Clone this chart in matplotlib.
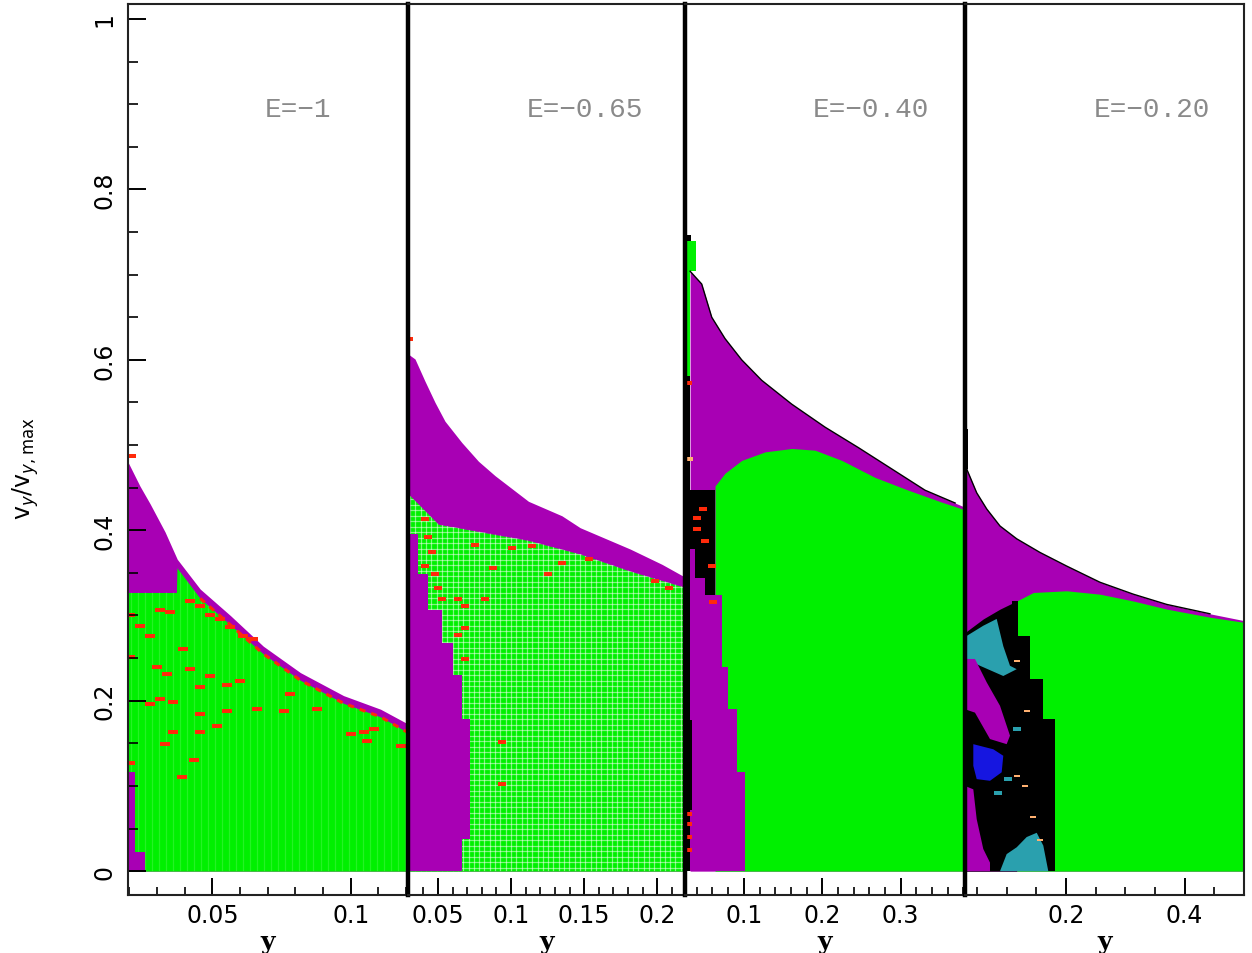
import numpy as np
import matplotlib
matplotlib.use("Agg")
import matplotlib.pyplot as plt
from matplotlib.ticker import MultipleLocator, FuncFormatter
from matplotlib.collections import LineCollection
from matplotlib.path import Path

# =========================
# DATA
# =========================

energies = ["E=\u22121", "E=\u22120.65", "E=\u22120.40", "E=\u22120.20"]

# ---- panel 1 : E=-1 ----
p1_x = [0.0195, 0.0238, 0.0275, 0.0329, 0.0373, 0.0456, 0.0565, 0.0684, 0.0818, 0.0974, 0.1108, 0.1205]
p1_top = [0.480, 0.452, 0.431, 0.398, 0.366, 0.331, 0.300, 0.264, 0.233, 0.206, 0.190, 0.173]
p1_gx = [0.0195, 0.0370, 0.0372, 0.0456, 0.0565, 0.0684, 0.0818, 0.0974, 0.1108, 0.1205]
p1_gtop = [0.327, 0.327, 0.356, 0.320, 0.289, 0.255, 0.224, 0.197, 0.181, 0.163]
p1_col_vy = [0.0, 0.022, 0.116]
p1_col_x = [0.0257, 0.0220, 0.0220]
p1_red_x = [0.0202, 0.0238, 0.0275, 0.0311, 0.0347, 0.0420, 0.0456, 0.0492, 0.0528, 0.0565,
            0.0612, 0.0648, 0.0202, 0.0299, 0.0335, 0.0395, 0.0420, 0.0456, 0.0492, 0.0553,
            0.0601, 0.0311, 0.0359, 0.0275, 0.0456, 0.0553, 0.0661, 0.0758, 0.0879, 0.0782,
            0.0359, 0.0456, 0.0516, 0.0329, 0.0432, 0.0390, 0.1000, 0.1047, 0.1083, 0.1060,
            0.1181, 0.0202, 0.0205]
p1_red_vy = [0.300, 0.288, 0.276, 0.306, 0.304, 0.317, 0.311, 0.300, 0.296, 0.286,
             0.276, 0.272, 0.251, 0.239, 0.231, 0.261, 0.237, 0.216, 0.229, 0.219,
             0.223, 0.202, 0.198, 0.196, 0.184, 0.188, 0.190, 0.188, 0.190, 0.208,
             0.163, 0.163, 0.170, 0.149, 0.131, 0.110, 0.161, 0.163, 0.167, 0.153,
             0.147, 0.127, 0.487]

# ---- panel 2 : E=-0.65 ----
p2_x = [0.0295, 0.0343, 0.0411, 0.0480, 0.0548, 0.0663, 0.0777, 0.0891, 0.1119, 0.1348, 0.1473, 0.1815, 0.2033, 0.2190]
p2_top = [0.607, 0.601, 0.575, 0.550, 0.528, 0.503, 0.481, 0.464, 0.434, 0.417, 0.403, 0.378, 0.360, 0.345]
p2_gx = [0.0295, 0.0503, 0.1119, 0.1473, 0.1815, 0.2190]
p2_gtop = [0.443, 0.407, 0.388, 0.372, 0.352, 0.333]
p2_col_vy = [0.0, 0.038, 0.179, 0.230, 0.268, 0.307, 0.349, 0.396]
p2_col_x = [0.0663, 0.0720, 0.0663, 0.0603, 0.0526, 0.0432, 0.0366, 0.0366]
p2_red_x = [0.0411, 0.0434, 0.0457, 0.0411, 0.0480, 0.0503, 0.0526, 0.0640, 0.0685, 0.0822,
            0.0640, 0.0685, 0.0685, 0.0754, 0.0879, 0.0937, 0.0937, 0.1005, 0.1142, 0.1256,
            0.1348, 0.1530, 0.1987, 0.2078, 0.0302]
p2_red_vy = [0.413, 0.392, 0.375, 0.358, 0.349, 0.332, 0.319, 0.319, 0.311, 0.319,
             0.277, 0.285, 0.249, 0.383, 0.356, 0.151, 0.102, 0.379, 0.381, 0.349,
             0.362, 0.366, 0.341, 0.332, 0.625]

# ---- panel 3 : E=-0.40 ----
p3_x = [0.0315, 0.0463, 0.0591, 0.0760, 0.0973, 0.1228, 0.1611, 0.2036, 0.2461, 0.2886, 0.3311, 0.3694, 0.3820]
p3_top = [0.704, 0.689, 0.650, 0.625, 0.600, 0.576, 0.548, 0.521, 0.497, 0.472, 0.447, 0.432, 0.427]
p3_gx = [0.0633, 0.0760, 0.0973, 0.1270, 0.1611, 0.1908, 0.2249, 0.2674, 0.3098, 0.3524, 0.3820]
p3_gtop = [0.452, 0.467, 0.482, 0.492, 0.496, 0.494, 0.482, 0.462, 0.447, 0.433, 0.424]
p3_dark_vy = [0.0, 0.300, 0.447, 0.581]
p3_dark_x = [0.0310, 0.0633, 0.0315, 0.0315]
p3_col_vy = [0.0, 0.116, 0.190, 0.240, 0.324, 0.344, 0.378]
p3_col_x = [0.1015, 0.0909, 0.0803, 0.0718, 0.0506, 0.0378, 0.0378]
p3_strip_vy = [0.581, 0.704, 0.739]
p3_strip_x = [0.0315, 0.0385, 0.0385]
p3_cap_vy = [0.739, 0.746]
p3_low_vy = [0.072, 0.177]
p3_low_x = [0.0345, 0.0345]
p3_red_x = [0.0483, 0.0399, 0.0399, 0.0505, 0.0591, 0.0611, 0.0285, 0.0285, 0.0285, 0.0285, 0.0285]
p3_red_vy = [0.425, 0.415, 0.402, 0.388, 0.358, 0.316, 0.067, 0.055, 0.040, 0.025, 0.573]
p3_orange_x = [0.0285]
p3_orange_vy = [0.484]

# ---- panel 4 : E=-0.20 ----
p4_x = [0.0300, 0.0328, 0.0497, 0.0666, 0.0890, 0.1171, 0.1563, 0.2013, 0.2574, 0.3136, 0.3698, 0.4427, 0.5000]
p4_top = [0.472, 0.472, 0.444, 0.425, 0.405, 0.390, 0.374, 0.358, 0.339, 0.325, 0.313, 0.302, 0.294]
p4_gx = [0.1171, 0.1451, 0.2013, 0.2574, 0.3136, 0.3698, 0.4427, 0.5000]
p4_gtop = [0.317, 0.327, 0.329, 0.325, 0.317, 0.3075, 0.298, 0.292]
p4_dark_x = [0.0300, 0.0608, 0.0890, 0.1171]
p4_dark_top = [0.280, 0.296, 0.3075, 0.317]
p4_step_vy = [0.0, 0.178, 0.225, 0.276, 0.317]
p4_step_x = [0.1816, 0.1619, 0.1395, 0.1198, 0.1198]
p4_spike_vy = [0.472, 0.519]
p4_spike_x = [0.0345, 0.0345]
p4_teal1_x = [0.0328, 0.0608, 0.0834, 0.0945, 0.1058, 0.1171, 0.0945, 0.0553, 0.0328]
p4_teal1_vy = [0.276, 0.288, 0.296, 0.264, 0.241, 0.237, 0.229, 0.241, 0.249]
p4_magA_x = [0.0300, 0.0468, 0.0666, 0.0890, 0.1058, 0.1002, 0.0721, 0.0468, 0.0300]
p4_magA_vy = [0.249, 0.249, 0.2215, 0.194, 0.159, 0.149, 0.155, 0.186, 0.190]
p4_blue_x = [0.0440, 0.0777, 0.0945, 0.0918, 0.0721, 0.0497, 0.0440]
p4_blue_vy = [0.149, 0.143, 0.1354, 0.116, 0.106, 0.108, 0.1236]
p4_magB_x = [0.0300, 0.0440, 0.0497, 0.0608, 0.0721, 0.0721, 0.0300]
p4_magB_vy = [0.100, 0.096, 0.061, 0.026, 0.010, 0.0, 0.0]
p4_teal2_x = [0.0890, 0.1002, 0.1171, 0.1339, 0.1508, 0.1619, 0.1703]
p4_teal2_vy = [0.0, 0.020, 0.028, 0.040, 0.045, 0.030, 0.0]
p4_teal_dot_x = [0.1171, 0.1030, 0.0861]
p4_teal_dot_vy = [0.167, 0.108, 0.092]
p4_orange_x = [0.1171, 0.1339, 0.1171, 0.1451, 0.1563, 0.1311]
p4_orange_vy = [0.247, 0.188, 0.112, 0.063, 0.036, 0.100]

# axis ranges and ticks of the four panels
x_ranges = [(0.0195, 0.1207), (0.0295, 0.219), (0.025, 0.382), (0.030, 0.500)]
x_major = [0.05, 0.05, 0.1, 0.2]
x_minor = [0.01, 0.01, 0.02, 0.05]

# =========================
# STYLE
# =========================

GREEN = "#00f000"
MAGENTA = "#a800b4"
RED = "#ff2a0a"
TEAL = "#2aa0ae"
BLUE = "#1616e0"
ORANGE = "#ffb070"

dash = Path([(-1.6, -0.6), (1.6, -0.6), (1.6, 0.6), (-1.6, 0.6), (-1.6, -0.6)],
            [Path.MOVETO, Path.LINETO, Path.LINETO, Path.LINETO, Path.CLOSEPOLY])

fig = plt.figure(figsize=(12.52, 9.54), dpi=100)

edges = [128, 408, 685, 965, 1244]
axes = []
for i in range(4):
    ax = fig.add_axes([edges[i] / 1252, 58 / 954, (edges[i + 1] - edges[i]) / 1252, 891 / 954])
    axes.append(ax)


def texture(ax, poly, xs, ys, alpha):
    # the light pixel-gap grid seen inside the green areas
    path = poly.get_paths()[0]
    segs = [[(x, -0.1), (x, 1.1)] for x in xs] + [[(-1, y), (1, y)] for y in ys]
    lc = LineCollection(segs, colors="white", linewidths=0.9, alpha=alpha, zorder=1)
    ax.add_collection(lc)
    lc.set_clip_path(path, ax.transData)


# =====================================================
# PANEL 1
# =====================================================

ax = axes[0]
ax.fill_between(p1_x, 0, p1_top, color=MAGENTA, lw=0)
g = ax.fill_between(p1_gx, 0, p1_gtop, color=GREEN, lw=0)
texture(ax, g, np.arange(0.0205, 0.121, 0.00254), [], 0.15)
ax.plot(p1_gx[3:], p1_gtop[3:], color=RED, lw=2.2, ls=(0, (2, 2)))
ax.fill_betweenx(p1_col_vy, x_ranges[0][0], p1_col_x, step="post", color=MAGENTA, lw=0)
ax.scatter(p1_red_x, p1_red_vy, marker=dash, s=45, color=RED, lw=0)

# =====================================================
# PANEL 2
# =====================================================

ax = axes[1]
ax.fill_between(p2_x, 0, p2_top, color=MAGENTA, lw=0)
g = ax.fill_between(p2_gx, 0, p2_gtop, color=GREEN, lw=0)
texture(ax, g, np.arange(0.031, 0.22, 0.00363), np.arange(0.004, 0.45, 0.00645), 0.5)
ax.fill_betweenx(p2_col_vy, x_ranges[1][0], p2_col_x, step="post", color=MAGENTA, lw=0)
ax.scatter(p2_red_x, p2_red_vy, marker=dash, s=40, color=RED, lw=0)

# =====================================================
# PANEL 3
# =====================================================

ax = axes[2]
ax.fill_between(p3_x, 0, p3_top, color=MAGENTA, lw=0)
ax.plot(p3_x[:-1], p3_top[:-1], color="black", lw=1.0)
ax.fill_between(p3_gx, 0, p3_gtop, color=GREEN, lw=0)
ax.fill_betweenx(p3_dark_vy, x_ranges[2][0], p3_dark_x, step="post", color="black", lw=0)
ax.fill_betweenx(p3_col_vy, 0.0310, p3_col_x, step="post", color=MAGENTA, lw=0)
ax.fill_betweenx(p3_low_vy, x_ranges[2][0], p3_low_x, color="black", lw=0)
ax.fill_betweenx(p3_strip_vy, x_ranges[2][0], p3_strip_x, step="post", color=GREEN, lw=0)
ax.fill_betweenx(p3_cap_vy, x_ranges[2][0], 0.0330, color="black", lw=0)
ax.scatter(p3_red_x, p3_red_vy, marker=dash, s=40, color=RED, lw=0)
ax.scatter(p3_orange_x, p3_orange_vy, marker=dash, s=60, color=ORANGE, lw=0)

# =====================================================
# PANEL 4
# =====================================================

ax = axes[3]
ax.fill_between(p4_x, 0, p4_top, color=MAGENTA, lw=0)
ax.plot(p4_x[:-1], p4_top[:-1], color="black", lw=1.0)
ax.fill_between(p4_gx, 0, p4_gtop, color=GREEN, lw=0)
ax.fill_between(p4_dark_x, 0, p4_dark_top, color="black", lw=0)
ax.fill_betweenx(p4_step_vy, 0.110, p4_step_x, step="post", color="black", lw=0)
ax.fill_betweenx(p4_spike_vy, x_ranges[3][0], p4_spike_x, color="black", lw=0)
ax.fill(p4_teal1_x, p4_teal1_vy, color=TEAL, lw=0)
ax.fill(p4_magA_x, p4_magA_vy, color=MAGENTA, lw=0)
ax.fill(p4_blue_x, p4_blue_vy, color=BLUE, lw=0)
ax.fill(p4_magB_x, p4_magB_vy, color=MAGENTA, lw=0)
ax.fill(p4_teal2_x, p4_teal2_vy, color=TEAL, lw=0)
ax.scatter(p4_teal_dot_x, p4_teal_dot_vy, marker=dash, s=40, color=TEAL, lw=0)
ax.scatter(p4_orange_x, p4_orange_vy, marker=dash, s=18, color=ORANGE, lw=0)

# =====================================================
# AXES
# =====================================================

text_x = [0.49, 0.43, 0.455, 0.46]

for i, ax in enumerate(axes):
    ax.set_xlim(*x_ranges[i])
    ax.set_ylim(-0.028, 1.0176)
    ax.xaxis.set_major_locator(MultipleLocator(x_major[i]))
    ax.xaxis.set_minor_locator(MultipleLocator(x_minor[i]))
    ax.xaxis.set_major_formatter(FuncFormatter(lambda v, p: f"{v:g}"))
    ax.tick_params(axis="x", which="major", direction="in", length=12, width=1.4,
                   labelsize=17, pad=6, top=False)
    ax.tick_params(axis="x", which="minor", direction="in", length=6, width=1.2, top=False)
    ax.set_xlabel("y", fontsize=18, fontweight="bold", family="DejaVu Serif")
    ax.xaxis.label.set_va("baseline")
    ax.xaxis.set_label_coords(0.5, -0.059)

    for s in ax.spines.values():
        s.set_linewidth(1.5)
        s.set_color("#222222")
    if i > 0:
        ax.tick_params(axis="y", which="both", left=False, labelleft=False)
        ax.spines["left"].set_linewidth(3.2)
        ax.spines["left"].set_color("black")
    if i < 3:
        ax.spines["right"].set_visible(False)

    ax.text(text_x[i], 0.882, energies[i], transform=ax.transAxes,
            family="Liberation Mono", fontsize=20, color="#8a8a8a", va="center", ha="left")

ax = axes[0]
ax.yaxis.set_major_locator(MultipleLocator(0.2))
ax.yaxis.set_minor_locator(MultipleLocator(0.05))
ax.yaxis.set_major_formatter(FuncFormatter(lambda v, p: f"{v:g}"))
ax.tick_params(axis="y", which="major", direction="in", length=13, width=1.4,
               labelsize=17, pad=8, right=False)
ax.tick_params(axis="y", which="minor", direction="in", length=7, width=1.2, right=False)
plt.setp(ax.get_yticklabels(), rotation=90, va="center")
ax.set_ylabel(r"v$_y$/v$_{y,\mathrm{max}}$", fontsize=17)
ax.yaxis.set_label_coords(-0.31, 0.48)

fig.savefig("out.png", dpi=100)
